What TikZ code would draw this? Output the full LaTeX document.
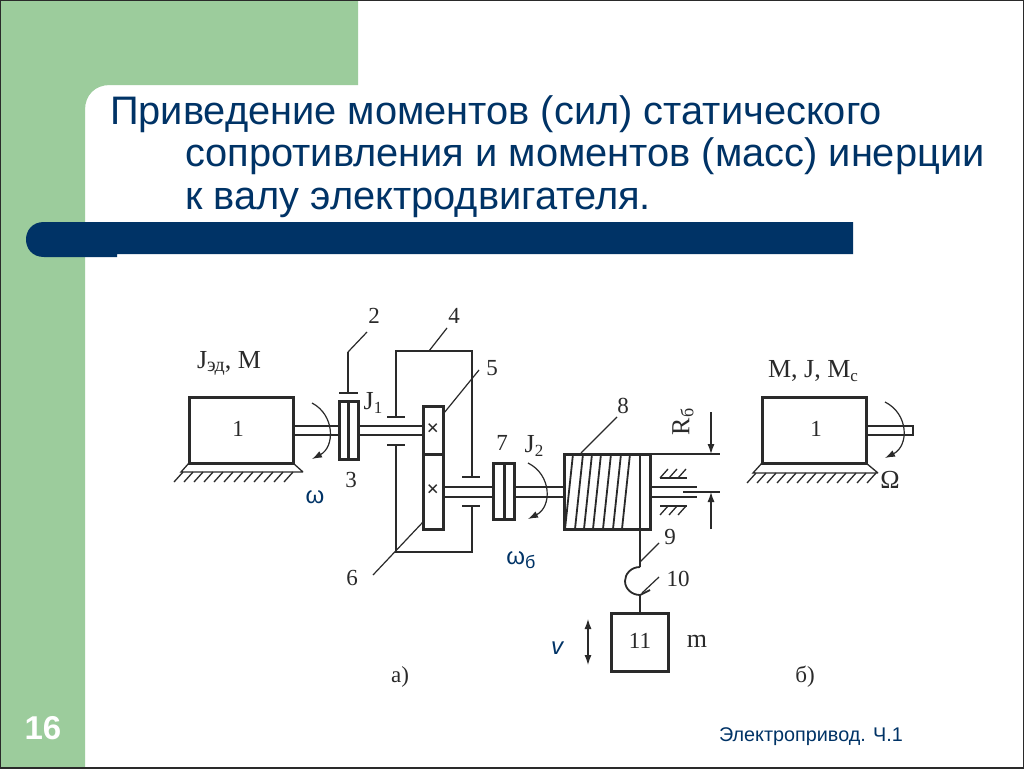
\documentclass[tikz,border=0pt]{standalone}
\usepackage{fontspec}
\setmainfont{Liberation Serif}
\setsansfont{Liberation Sans}
\usetikzlibrary{arrows.meta}
\definecolor{slidegreen}{HTML}{9CCC9C}
\definecolor{slideblue}{HTML}{003366}
\definecolor{inkgray}{HTML}{2A2A2A}
\tikzset{
  >={Latex[length=10pt,width=7pt]},
  {part/.style} ={draw=inkgray,line width=3pt},
  {axle/.style} ={draw=inkgray,line width=1.8pt},
  {leader/.style} ={draw=inkgray,line width=1.2pt},
  {turn/.style} ={draw=inkgray,line width=1.2pt,->},
  {hatch/.style} ={draw=inkgray,line width=1.3pt},
  {num/.style} ={font=\fontsize{23}{23}\selectfont,text=inkgray,inner sep=0},
  {sign/.style} ={font=\fontsize{26}{26}\selectfont,text=inkgray,inner sep=0},
  {title/.style} ={font=\sffamily\fontsize{39.8}{39.8}\selectfont,text=slideblue,anchor=base west,inner sep=0},
  {speed/.style} ={font=\sffamily\fontsize{24}{24}\selectfont,text=slideblue,inner sep=0},
  {cross/.style} ={font=\bfseries\fontsize{22}{22}\selectfont,text=inkgray,inner sep=0},
}
\begin{document}
\begin{tikzpicture}[x=1pt,y=-1pt]
\useasboundingbox (0,0) rectangle (1024,768);

% slide
\fill[white] (0,0) rectangle (1024,768);
\fill[slidegreen] (0,0) -- (358,0) -- (358,85) -- (110,85)
    .. controls (95,85) and (85,95) .. (85,110) -- (85,768) -- (0,768) -- cycle;
\draw[inkgray,line width=1.5pt] (0,0) rectangle (1024,768);
\fill[slideblue] (44,222) -- (853,222) -- (853,254) -- (117,254) -- (117,257) -- (44,257)
    .. controls (20,257) and (20,222) .. (44,222) -- cycle;

\node[title] (line1) at (110,124) {Приведение моментов (сил) статического};
\node[title] (line2) at (185,166) {сопротивления и моментов (масс) инерции};
\node[title] (line3) at (185,209) {к валу электродвигателя.};
\node[font=\sffamily\bfseries\fontsize{33}{33}\selectfont,text=white,inner sep=0] (page) at (43,728) {16};
\node[font=\sffamily\fontsize{19.8}{19.8}\selectfont,text=slideblue,inner sep=0] (foot) at (811,737) {Электропривод. Ч.1};

% motor a)
\draw[part] (189,397) rectangle (293,463);
\node[num] (m1) at (238,429) {1};
\node[sign] (jm) at (229,363) {J\raisebox{-3pt}{\fontsize{20}{20}\selectfont эд}, M};
\draw[hatch] (189,463) -- (181,472) -- (303,472) (293,463) -- (303,472);
\foreach \x in {183,193,...,293}
  \draw[hatch] (\x,472) -- (\x-9,482);

% first shaft
\draw[axle] (293,426) -- (339,426) (293,435) -- (339,435);
\draw[axle] (358,426) -- (423,426) (358,435) -- (423,435);
\draw[part] (339,401) rectangle (358,459);
\draw[part] (348.5,401) -- (348.5,459);
\draw[turn] (312,403) .. controls (335,415) and (335,447) .. (312,459);
\node[speed] (w) at (315,497) {ω};
\node[num] (n3) at (351,480) {3};
\node[sign] (j1) at (373,403) {J\raisebox{-4pt}{\fontsize{17}{17}\selectfont 1}};

% leader 2 and bearing cap
\draw[axle] (348,393) -- (348,352);
\draw[axle] (339,393) -- (358,393);
\draw[leader] (348,352) -- (367,332);
\node[num] (n2) at (374,316) {2};

% housing
\draw[axle] (396,417) -- (396,351) -- (472,351) -- (472,477);
\draw[axle] (396,445) -- (396,552) -- (472,552) -- (472,506);
\draw[axle] (387,417) -- (405,417) (387,445) -- (405,445);
\draw[axle] (462,477) -- (480,477) (462,506) -- (480,506);
\draw[leader] (429,351) -- (447,328);
\node[num] (n4) at (454,316) {4};

% gears
\draw[part] (423,406) rectangle (443,529);
\draw[part] (423,454) -- (443,454);
\node[cross] (x1) at (433,430) {×};
\node[cross] (x2) at (433,491) {×};
\draw[leader] (444,413) -- (479,370);
\node[num] (n5) at (492,368) {5};
\draw[leader] (373,575) -- (423,522);
\node[num] (n6) at (352,578) {6};

% second shaft
\draw[axle] (443,487) -- (493,487) (443,497) -- (493,497);
\draw[axle] (514,487) -- (564,487) (514,497) -- (564,497);
\draw[part] (493,463) rectangle (514,519);
\draw[part] (504,463) -- (504,519);
\draw[turn] (528,463) .. controls (552,475) and (552,507) .. (528,519);
\node[num] (n7) at (502,443) {7};
\node[sign] (j2) at (534,446) {J\raisebox{-4pt}{\fontsize{17}{17}\selectfont 2}};
\node[speed] (wb) at (521,560) {ω\raisebox{-4pt}{\fontsize{18}{18}\selectfont б}};

% drum
\draw[part] (564,454) rectangle (650,529);
\draw[axle] (640,454) -- (640,529);
\foreach \x in {565,575,584,593,603,613,622}
  \draw[axle] (\x,529) -- (\x+8,454);
\draw[leader] (581,453) -- (617,417);
\node[num] (n8) at (623,406) {8};

% output shaft and bearing
\draw[axle] (650,487) -- (697,487) (650,497) -- (697,497);
\draw[axle] (660,478) -- (687,478) (660,506) -- (687,506);
\foreach \x in {668,677,686}
  \draw[hatch] (\x,469) -- (\x-8,478);
\foreach \x in {668,677,686}
  \draw[hatch] (\x,506) -- (\x-8,515);

% radius dimension
\draw[leader] (650,454) -- (720,454) (683,492) -- (720,492);
\draw[leader,->] (711,412) -- (711,454);
\draw[leader,->] (711,529) -- (711,492);
\node[sign,rotate=90] (rb) at (683,422) {R\raisebox{-4pt}{\fontsize{18}{18}\selectfont б}};

% rope, hook and load
\draw[axle] (640,529) -- (640,567);
\draw[axle] (640,567) .. controls (631,567) and (625,574) .. (625,581)
    .. controls (625,589) and (632,595) .. (640,595) -- (650,590);
\draw[axle] (640,595) -- (640,613);
\draw[leader] (640,562) -- (659,543);
\draw[leader] (642,593) -- (659,577);
\node[num] (n9) at (670,537) {9};
\node[num] (n10) at (678,579) {10};
\draw[part] (611,613) rectangle (668,671);
\node[num] (n11) at (640,641) {11};
\node[sign] (nm) at (697,641) {m};
\draw[leader,<->] (588,619) -- (588,665);
\node[speed,font=\sffamily\itshape\fontsize{24}{24}\selectfont] (v) at (557,648) {v};
\node[num] (capa) at (400,677) {а)};

% motor b)
\draw[part] (762,397) rectangle (866,463);
\node[num] (m2) at (816,429) {1};
\node[sign] (mj) at (813,371) {M, J, M\raisebox{-4pt}{\fontsize{17}{17}\selectfont c}};
\draw[hatch] (762,463) -- (753,473) -- (878,473) (866,463) -- (878,473);
\foreach \x in {756,766,...,876}
  \draw[hatch] (\x,473) -- (\x-9,483);
\draw[axle] (866,426) -- (913,426) -- (913,435) -- (866,435);
\draw[turn] (885,402) .. controls (909,414) and (909,446) .. (885,458);
\node[sign] (om) at (890,480) {Ω};
\node[num] (capb) at (805,677) {б)};
\end{tikzpicture}
\end{document}
